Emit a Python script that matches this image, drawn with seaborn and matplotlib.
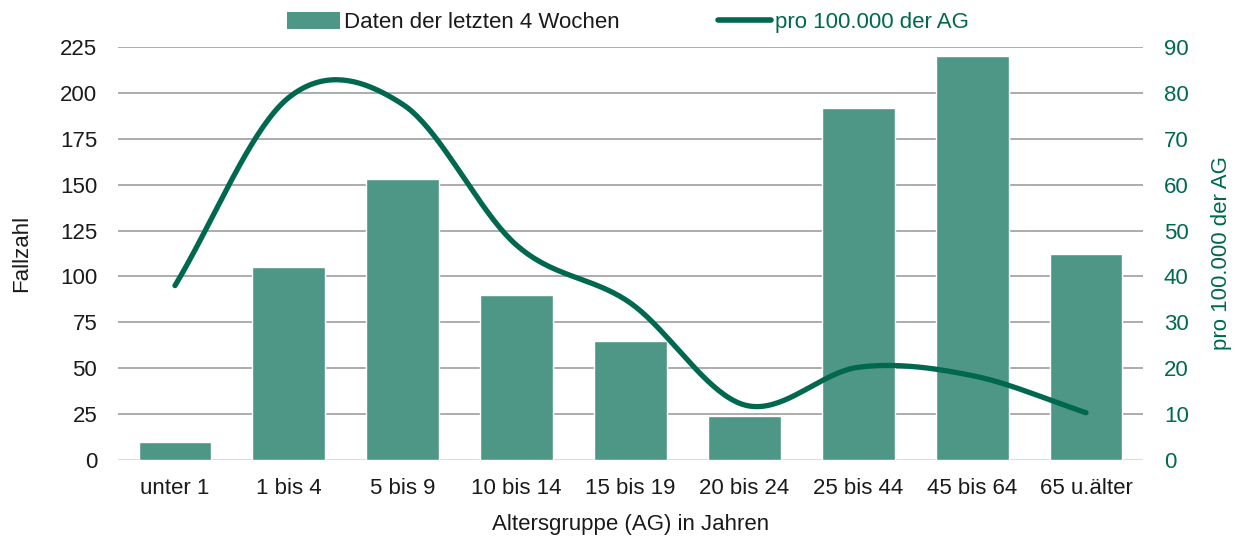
import numpy as np
import pandas as pd
import matplotlib
matplotlib.use("Agg")
import matplotlib.pyplot as plt
import seaborn as sns
from matplotlib.patches import Patch
from matplotlib.lines import Line2D

# data
age_groups = ["unter 1", "1 bis 4", "5 bis 9", "10 bis 14", "15 bis 19",
              "20 bis 24", "25 bis 44", "45 bis 64", "65 u.älter"]
cases = [10, 105, 153, 90, 65, 24, 192, 220, 112]
per_100k = [38.0, 79.0, 77.5, 46.8, 34.2, 12.0, 20.2, 18.4, 10.3]

BAR_COLOR = "#4E9686"
LINE_COLOR = "#00684F"
GRID_COLOR = "#A6A6A6"
ZERO_COLOR = "#D9D9D9"
TEXT_COLOR = "#1A1A1A"
FS = 16


def catmull_rom(x, y, n=40):
    # smooth curve through the points, similar to Excel's smoothed line
    x = np.asarray(x, float)
    y = np.asarray(y, float)
    px = np.concatenate([[2 * x[0] - x[1]], x, [2 * x[-1] - x[-2]]])
    py = np.concatenate([[2 * y[0] - y[1]], y, [2 * y[-1] - y[-2]]])
    out_x, out_y = [], []
    for i in range(1, len(px) - 2):
        t = np.linspace(0, 1, n, endpoint=(i == len(px) - 3))
        t2, t3 = t * t, t * t * t
        for arr, p in ((out_x, px), (out_y, py)):
            p0, p1, p2, p3 = p[i - 1], p[i], p[i + 1], p[i + 2]
            arr.extend(0.5 * ((2 * p1) + (-p0 + p2) * t
                              + (2 * p0 - 5 * p1 + 4 * p2 - p3) * t2
                              + (-p0 + 3 * p1 - 3 * p2 + p3) * t3))
    return np.array(out_x), np.array(out_y)


sns.set_theme(style="white")
plt.rcParams["font.family"] = ["Liberation Sans", "DejaVu Sans"]

df = pd.DataFrame({"AG": age_groups, "Fallzahl": cases, "rate": per_100k})

fig = plt.figure(figsize=(12.41, 5.39), dpi=100)
ax = fig.add_axes([0.0951, 0.1466, 0.8259, 0.7662])

sns.barplot(data=df, x="AG", y="Fallzahl", color=BAR_COLOR, saturation=1,
            width=0.64, ax=ax, zorder=2)
ax.set_xlim(-0.5, len(age_groups) - 0.5)
ax.set_ylim(0, 225)
ax.set_yticks(range(0, 226, 25))
ax.yaxis.grid(True, color=GRID_COLOR, linewidth=1.3, zorder=0)
ax.set_axisbelow(True)
for s in ax.spines.values():
    s.set_visible(False)
ax.tick_params(axis="both", length=0, labelsize=FS, colors=TEXT_COLOR)
ax.tick_params(axis="x", pad=13)
ax.tick_params(axis="y", pad=15)
ax.set_xlabel("Altersgruppe (AG) in Jahren", fontsize=FS, color=TEXT_COLOR, labelpad=11)
ax.set_ylabel("Fallzahl", fontsize=FS, color=TEXT_COLOR, labelpad=20)
fig.canvas.draw()
ax.get_ygridlines()[0].set_color(ZERO_COLOR)

ax2 = ax.twinx()
sx, sy = catmull_rom(np.arange(len(per_100k)), per_100k)
sns.lineplot(x=sx, y=sy, ax=ax2, color=LINE_COLOR, linewidth=3.8,
             solid_capstyle="round", sort=False, estimator=None)
ax2.set_ylim(0, 90)
ax2.set_yticks(range(0, 91, 10))
for s in ax2.spines.values():
    s.set_visible(False)
ax2.tick_params(axis="y", length=0, labelsize=FS, colors=LINE_COLOR, pad=15)
ax2.set_ylabel("pro 100.000 der AG", fontsize=FS, color=LINE_COLOR, labelpad=16)
ax2.grid(False)

handles = [Patch(facecolor=BAR_COLOR, edgecolor="none"),
           Line2D([0], [0], color=LINE_COLOR, linewidth=4, solid_capstyle="round")]
leg = fig.legend(handles, ["Daten der letzten 4 Wochen", "pro 100.000 der AG"],
                 loc="center", bbox_to_anchor=(0.506, 0.958), ncol=2, frameon=False,
                 fontsize=FS, handlelength=2.4, handleheight=0.75,
                 handletextpad=0.2, columnspacing=4.4)
leg.get_texts()[0].set_color(TEXT_COLOR)
leg.get_texts()[1].set_color(LINE_COLOR)

fig.savefig("out.png", dpi=100)
